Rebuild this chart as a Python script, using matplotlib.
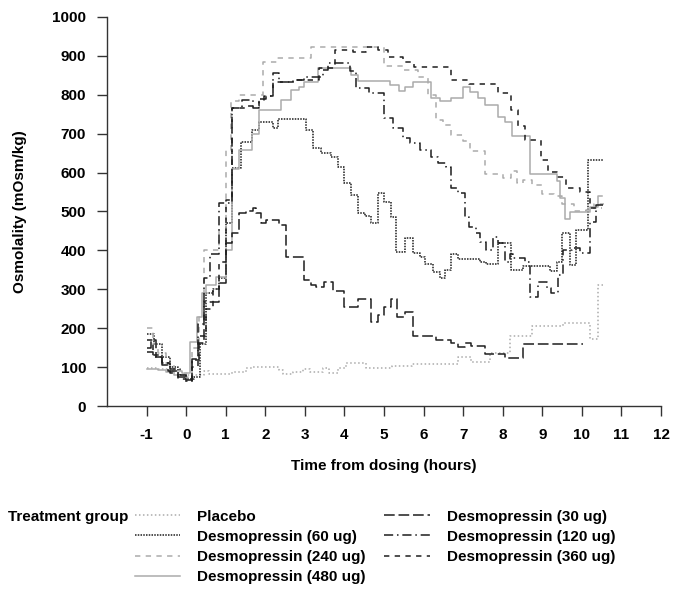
import matplotlib
matplotlib.use("Agg")
import matplotlib.pyplot as plt

plt.rcParams['font.family'] = ['Liberation Sans', 'DejaVu Sans']
plt.rcParams['font.weight'] = 'bold'
plt.rcParams['font.size'] = 11
plt.rcParams['axes.unicode_minus'] = False

# step curves: (hours, mOsm/kg)
t_placebo = [-1.0, -0.7, -0.4, -0.2, 0.0, 0.46, 0.59, 1.17, 1.51, 1.68, 2.35, 2.44, 2.69, 2.95, 3.12,
             3.45, 3.62, 3.83, 4.04, 4.55, 5.2, 5.7, 6.86, 7.2, 7.67, 8.18, 8.73, 9.52, 10.2, 10.4, 10.53]
v_placebo = [97, 95, 90, 85, 80, 90, 82, 88, 98, 101, 93, 82, 88, 96, 88,
             98, 85, 98, 110, 98, 104, 108, 126, 113, 136, 180, 206, 213, 172, 311, 311]

t_30 = [-1.0, -0.89, -0.77, -0.6, -0.45, -0.2, 0.0, 0.16, 0.33, 0.46, 0.84, 1.0, 1.17, 1.34, 1.51,
        1.68, 1.76, 1.89, 2.02, 2.35, 2.52, 2.99, 3.16, 3.28, 3.49, 3.70, 4.0, 4.34, 4.68, 4.84,
        5.01, 5.18, 5.33, 5.52, 5.73, 6.32, 6.70, 6.87, 7.04, 7.21, 7.54, 8.05, 8.51, 10.03]
v_30 = [150, 170, 125, 105, 90, 75, 68, 118, 162, 267, 316, 419, 444, 496, 500,
        509, 496, 470, 478, 465, 383, 324, 311, 306, 319, 296, 255, 275, 216, 234,
        255, 275, 229, 242, 180, 170, 162, 152, 162, 154, 134, 123, 159, 159]

t_60 = [-1.0, -0.8, -0.6, -0.4, -0.2, 0.0, 0.2, 0.35, 0.5, 0.67, 0.84, 1.0, 1.17, 1.38, 1.67, 1.85,
        2.19, 2.31, 3.03, 3.2, 3.41, 3.66, 3.83, 4.0, 4.17, 4.34, 4.51, 4.68, 4.84, 5.01, 5.18,
        5.31, 5.52, 5.73, 5.9, 6.03, 6.24, 6.41, 6.53, 6.70, 6.87, 7.42, 7.59, 7.88, 8.22, 8.5,
        9.2, 9.36, 9.5, 9.7, 9.84, 10.16, 10.56]
v_60 = [185, 160, 125, 100, 80, 70, 75, 160, 290, 300, 330, 470, 611, 678, 709, 731,
        714, 738, 709, 663, 650, 640, 615, 573, 542, 497, 488, 470, 547, 525, 487,
        397, 433, 394, 384, 365, 345, 330, 350, 392, 378, 371, 364, 418, 350, 361,
        348, 371, 444, 362, 452, 632, 632]

t_120 = [-1.0, -0.85, -0.6, -0.4, -0.15, 0.0, 0.16, 0.3, 0.45, 0.6, 0.84, 1.17, 1.42, 1.68, 1.85,
         2.02, 2.19, 2.35, 2.69, 2.99, 3.45, 3.58, 4.13, 4.30, 4.63, 5.01, 5.22, 5.48, 5.65, 5.9,
         6.19, 6.36, 6.57, 6.70, 6.87, 7.04, 7.16, 7.33, 7.42, 7.59, 7.75, 7.88, 8.05, 8.18, 8.26,
         8.56, 8.68, 8.89, 9.11, 9.23, 9.4, 9.53, 9.74, 9.95, 10.2, 10.37, 10.54]
v_120 = [140, 125, 110, 95, 80, 65, 120, 210, 330, 390, 521, 765, 787, 765, 789,
         796, 855, 834, 838, 845, 864, 881, 860, 817, 805, 740, 715, 688, 675, 658,
         641, 624, 615, 560, 547, 487, 461, 444, 422, 401, 435, 418, 371, 391, 380,
         371, 281, 320, 303, 290, 337, 401, 405, 394, 474, 517, 517]

t_240 = [-1.0, -0.85, -0.7, -0.5, -0.3, -0.1, 0.05, 0.16, 0.33, 0.46, 0.84, 1.0, 1.13, 1.34, 1.95,
         2.3, 3.16, 5.01, 5.5, 5.86, 6.1, 6.31, 6.48, 6.70, 7.0, 7.17, 7.55, 8.0, 8.2, 8.35, 8.5,
         8.75, 9.0, 9.3, 9.5, 9.8, 10.1, 10.3, 10.55]
v_240 = [200, 160, 135, 110, 90, 75, 70, 150, 230, 401, 452, 658, 785, 800, 885,
         894, 924, 874, 864, 845, 800, 735, 722, 697, 680, 655, 596, 586, 603, 573, 581,
         568, 545, 540, 520, 500, 505, 520, 520]

t_360 = [-1.0, -0.85, -0.6, -0.4, -0.2, 0.0, 0.15, 0.3, 0.5, 0.67, 0.84, 1.0, 1.17, 1.5, 1.85,
         1.97, 2.19, 2.7, 3.35, 3.75, 4.21, 4.55, 4.84, 5.1, 5.48, 5.77, 6.70, 7.16, 7.88, 8.22,
         8.39, 8.56, 8.98, 9.15, 9.36, 9.61, 9.95, 10.2, 10.5]
v_360 = [170, 130, 110, 85, 70, 65, 100, 180, 250, 300, 370, 530, 765, 770, 787,
         796, 834, 838, 870, 916, 911, 922, 915, 896, 885, 871, 838, 827, 805, 760,
         720, 684, 632, 602, 589, 560, 550, 510, 510]

t_480 = [-1.0, -0.7, -0.5, -0.3, -0.05, 0.1, 0.27, 0.4, 0.5, 0.76, 1.0, 1.17, 1.34, 1.67, 1.85,
         2.4, 2.65, 2.85, 2.99, 3.32, 4.17, 4.34, 5.14, 5.39, 5.52, 5.73, 6.19, 6.41, 6.70, 6.99,
         7.17, 7.38, 7.55, 7.89, 8.06, 8.23, 8.68, 9.36, 9.45, 9.57, 9.7, 10.2, 10.4, 10.5]
v_480 = [95, 93, 88, 80, 85, 165, 230, 290, 311, 332, 401, 609, 658, 700, 761,
         787, 812, 821, 834, 869, 851, 835, 825, 810, 821, 832, 791, 784, 791, 821,
         808, 793, 774, 742, 731, 695, 596, 578, 535, 480, 498, 512, 540, 540]

grey = '#ababab'
dark = '#1e1e1e'

series = [
    ('Placebo', t_placebo, v_placebo, grey, (0, (1, 1.6))),
    ('Desmopressin (60 ug)', t_60, v_60, dark, (0, (1, 0.8))),
    ('Desmopressin (240 ug)', t_240, v_240, grey, (0, (3.5, 3.5))),
    ('Desmopressin (480 ug)', t_480, v_480, grey, '-'),
    ('Desmopressin (30 ug)', t_30, v_30, dark, (0, (7, 2.5))),
    ('Desmopressin (120 ug)', t_120, v_120, dark, (0, (6, 2.5, 1, 2.5))),
    ('Desmopressin (360 ug)', t_360, v_360, dark, (0, (3.5, 3.5))),
]

fig = plt.figure(figsize=(6.75, 5.9), dpi=100)
ax = fig.add_axes([107 / 675, 184 / 590, 554 / 675, 389 / 590])

handles = []
for name, t, v, col, ls in series:
    ln, = ax.step(t, v, where='post', color=col, linestyle=ls, linewidth=1.1, label=name)
    handles.append(ln)

ax.set_xlim(-2, 12)
ax.set_ylim(0, 1000)
ax.set_xticks(range(-1, 13))
ax.set_yticks(range(0, 1001, 100))
for s in ['top', 'right']:
    ax.spines[s].set_visible(False)
for s in ['left', 'bottom']:
    ax.spines[s].set_color('#333333')
    ax.spines[s].set_linewidth(1.0)
ax.tick_params(axis='both', direction='out', length=7, width=1.0, color='#333333', labelsize=11)
ax.tick_params(axis='y', pad=8)
ax.tick_params(axis='x', pad=9)

ax.set_ylabel('Osmolality (mOsm/kg)', fontsize=11, fontweight='bold')
ax.yaxis.set_label_coords(-0.145, 0.5)
ax.set_xlabel('Time from dosing (hours)', fontsize=11, fontweight='bold')
ax.xaxis.set_label_coords(0.5, -0.135)

fig.text(8 / 675, 1 - 521 / 590, 'Treatment group', fontsize=11, fontweight='bold', va='baseline')
fig.legend(handles=handles, ncol=2, loc='upper left', bbox_to_anchor=(127 / 675, 1 - 502 / 590),
           frameon=False, borderpad=0, handlelength=3.0, handletextpad=1.1, columnspacing=1.2,
           labelspacing=0.4, prop={'weight': 'bold', 'size': 11})

fig.savefig('out.png', dpi=100)
